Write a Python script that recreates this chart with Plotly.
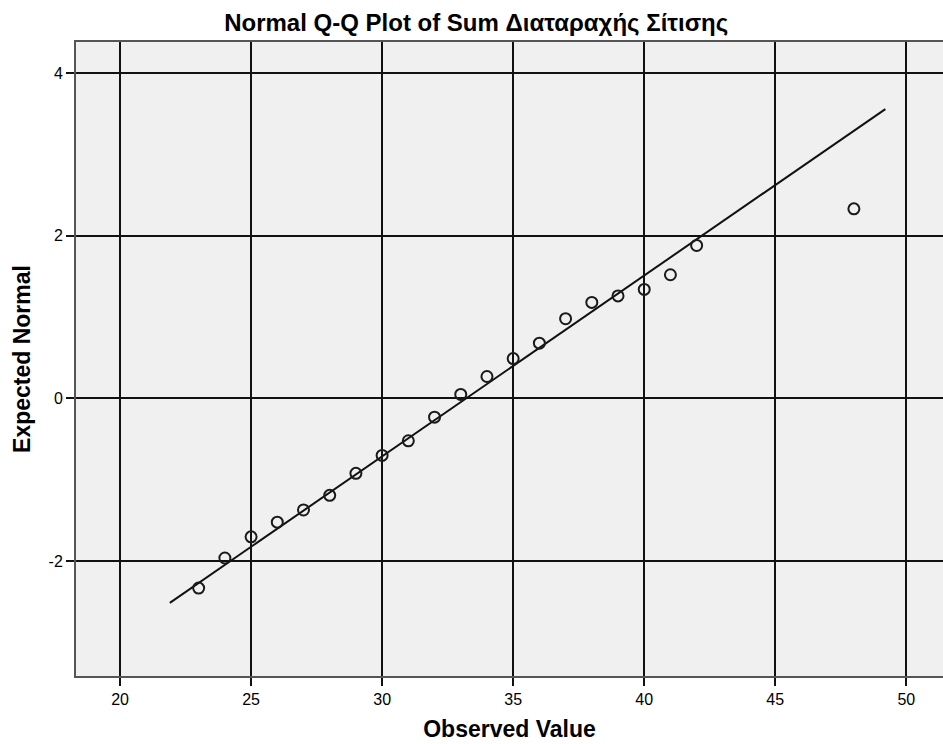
import plotly.graph_objects as go

# Data
observed = [23, 24, 25, 26, 27, 28, 29, 30, 31, 32, 33, 34, 35, 36, 37, 38, 39, 40, 41, 42, 48]
expected = [-2.33, -1.96, -1.70, -1.52, -1.37, -1.19, -0.92, -0.70, -0.52, -0.23, 0.05,
            0.27, 0.49, 0.68, 0.98, 1.18, 1.26, 1.34, 1.52, 1.88, 2.33]
line_mean = 33.2
line_sd = 4.5
line_x = [21.9, 49.2]
line_y = [(v - line_mean) / line_sd for v in line_x]

x_ticks = [20, 25, 30, 35, 40, 45, 50]
y_ticks = [-2, 0, 2, 4]

fig = go.Figure()
fig.add_trace(go.Scatter(x=line_x, y=line_y, mode="lines",
                         line=dict(color="#111111", width=2), hoverinfo="skip"))
fig.add_trace(go.Scatter(x=observed, y=expected, mode="markers",
                         marker=dict(symbol="circle-open", size=11,
                                     color="#1a1a1a", line=dict(width=2, color="#1a1a1a"))))

font = "Liberation Sans, Arial, sans-serif"
fig.update_layout(
    width=943, height=744,
    margin=dict(l=76, r=0, t=42, b=68),
    paper_bgcolor="white", plot_bgcolor="#F0F0F0",
    showlegend=False,
    title=dict(text="<b>Normal Q-Q Plot of Sum Διαταραχής Σίτισης</b>", x=0.505, xref="container",
               xanchor="center", y=0.97, yref="container", yanchor="middle",
               font=dict(family=font, size=24, color="black")),
    xaxis=dict(range=[18.32, 51.4], tickvals=x_ticks, ticktext=[str(v) for v in x_ticks],
               showgrid=True, gridcolor="#111111", gridwidth=1.6, zeroline=False,
               showline=True, linecolor="#555555", linewidth=2, mirror=True,
               ticks="outside", ticklen=8, tickcolor="#111111", tickwidth=1.5,
               tickfont=dict(family=font, size=16, color="black"),
               title=dict(text="<b>Observed Value</b>", standoff=14,
                          font=dict(family=font, size=23, color="black"))),
    yaxis=dict(range=[-3.41, 4.38], tickvals=y_ticks, ticktext=[str(v) for v in y_ticks],
               showgrid=True, gridcolor="#111111", gridwidth=1.6, zeroline=False,
               showline=True, linecolor="#555555", linewidth=2, mirror=False,
               ticks="outside", ticklen=8, tickcolor="#111111", tickwidth=1.5,
               tickfont=dict(family=font, size=16, color="black"),
               title=dict(text="<b>Expected Normal</b>", standoff=12,
                          font=dict(family=font, size=23, color="black"))),
)

fig.write_html("out.html", config={"displayModeBar": False},
               post_script="document.body.style.margin='0';document.body.style.overflow='hidden';")
